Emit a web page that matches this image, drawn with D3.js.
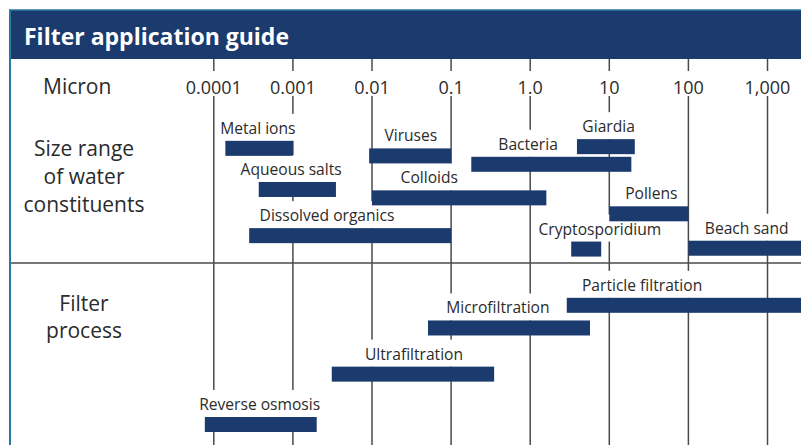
<!DOCTYPE html>
<html>
<head>
<meta charset="utf-8">
<script src="https://cdn.jsdelivr.net/npm/d3@7"></script>
<style>
  body { margin: 0; background: #fff; }
  svg { display: block; font-family: "Open Sans", sans-serif; }
</style>
</head>
<body>
<div id="chart"></div>
<script>
// size scale, microns
const tickValues = [0.0001, 0.001, 0.01, 0.1, 1, 10, 100, 1000];
const tickLabels = ["0.0001", "0.001", "0.01", "0.1", "1.0", "10", "100", "1,000"];

// water constituents (top) and filter processes (bottom)
const names = ["Metal ions", "Aqueous salts", "Dissolved organics", "Viruses", "Colloids",
               "Bacteria", "Giardia", "Pollens", "Cryptosporidium", "Beach sand",
               "Particle filtration", "Microfiltration", "Ultrafiltration", "Reverse osmosis"];
const minSize = [0.00014, 0.00037, 0.00028, 0.0092, 0.01, 0.18, 3.9, 10, 3.3, 100,
                 2.9, 0.051, 0.0031, 0.000077];
const maxSize = [0.001, 0.0035, 0.1, 0.1, 1.6, 19, 21, 100, 7.9, 5000,
                 5000, 5.7, 0.35, 0.002];
const labelAt = [0.00036, 0.00095, 0.0027, 0.031, 0.053, 0.94, 9.8, 34, 7.6, 546,
                 26, 0.39, 0.034, 0.00038];
const level = [0.1, 5, 10.5, 1, 6, 2, -0.1, 7.9, 12.1, 12, 18.8, 21.5, 27, 33];

const rowLabels = [
  { lines: ["Size range", "of water", "constituents"], level: [1.9, 5.2, 8.6] },
  { lines: ["Filter", "process"], level: [20.4, 23.6] }
];

const W = 801, H = 445;
const navy = "#1b3a6d", ink = "#2b2b2b", grid = "#4a4a4a", teal = "#2a78a4";

const svg = d3.select("#chart").append("svg")
  .attr("width", W).attr("height", H);

const x = d3.scaleLog().domain([0.0001, 1000]).range([213.8, 767.5]);
const y = d3.scaleLinear().domain([0, 33]).range([140, 417]);
const barH = 15;

const data = names.map((n, i) => ({
  name: n, lo: minSize[i], hi: maxSize[i], at: labelAt[i], level: level[i]
}));

// gridlines
svg.append("g").selectAll("line").data(tickValues).join("line")
  .attr("x1", d => x(d)).attr("x2", d => x(d))
  .attr("y1", 59).attr("y2", H)
  .attr("stroke", grid).attr("stroke-width", 1.5);

// section separator
svg.append("line")
  .attr("x1", 11).attr("x2", W).attr("y1", 263).attr("y2", 263)
  .attr("stroke", grid).attr("stroke-width", 1.5);

// header
svg.append("rect").attr("x", 10).attr("y", 10).attr("width", W - 10).attr("height", 49)
  .attr("fill", navy);
svg.append("line").attr("x1", 9).attr("x2", W).attr("y1", 10).attr("y2", 10)
  .attr("stroke", teal).attr("stroke-width", 1.5);
svg.append("line").attr("x1", 10).attr("x2", 10).attr("y1", 9.5).attr("y2", H)
  .attr("stroke", teal).attr("stroke-width", 2);
svg.append("text").attr("x", 24).attr("y", 45)
  .attr("fill", "#fff").attr("font-weight", "bold").attr("font-size", 23)
  .text("Filter application guide");

// micron axis labels with knock-out backgrounds
const axisG = svg.append("g");
axisG.append("text").attr("x", 43).attr("y", 94)
  .attr("fill", ink).attr("font-size", 21).text("Micron");
const tickTexts = axisG.selectAll(".tick").data(tickValues).join("text")
  .attr("class", "tick")
  .attr("x", d => x(d)).attr("y", 94)
  .attr("text-anchor", "middle").attr("fill", ink).attr("font-size", 18)
  .text((d, i) => tickLabels[i]);
tickTexts.each(function() {
  const b = this.getBBox();
  axisG.insert("rect", ".tick")
    .attr("x", b.x - 2).attr("y", 71).attr("width", b.width + 4).attr("height", 25)
    .attr("fill", "#fff");
});

// row titles
rowLabels.forEach(r => {
  svg.append("g").selectAll("text").data(r.lines).join("text")
    .attr("x", 84).attr("y", (d, i) => y(r.level[i]))
    .attr("text-anchor", "middle").attr("fill", ink).attr("font-size", 21)
    .text(d => d);
});

// bars and labels
const itemG = svg.append("g");
const boxG = itemG.append("g");
const barG = itemG.append("g");
const labG = itemG.append("g");

const labels = labG.selectAll("text").data(data).join("text")
  .attr("x", d => x(d.at)).attr("y", d => y(d.level) - 7)
  .attr("text-anchor", "middle").attr("fill", ink).attr("font-size", 15.6)
  .text(d => d.name);

labels.each(function(d) {
  const b = this.getBBox();
  const top = y(d.level) - 27;
  boxG.append("rect")
    .attr("x", b.x - 3).attr("y", top)
    .attr("width", b.width + 6).attr("height", y(d.level) - top)
    .attr("fill", "#fff");
});

barG.selectAll("rect").data(data).join("rect")
  .attr("x", d => x(d.lo)).attr("y", d => y(d.level))
  .attr("width", d => x(d.hi) - x(d.lo)).attr("height", barH)
  .attr("fill", navy);
</script>
</body>
</html>
